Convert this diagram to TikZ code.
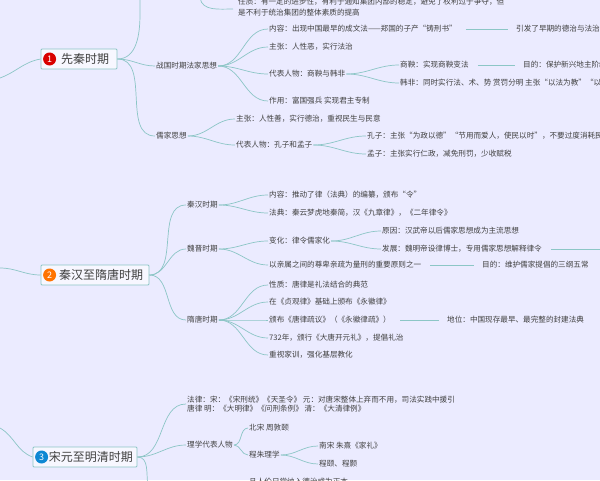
\documentclass[tikz,border=0pt]{standalone}
\usepackage{fontspec}
\setmainfont{Noto Sans CJK SC}
\begin{document}
\begin{tikzpicture}[x=1pt,y=-1pt,
  every node/.style={text=black!75},
  t/.style={anchor=west,inner sep=1pt,font=\fontsize{7.6}{9}\selectfont},
  topic/.style={draw=teal!45,fill=blue!3,line width=0.8pt,rounded corners=1pt,inner xsep=4pt,inner ysep=2pt,font=\fontsize{12}{14}\selectfont,minimum height=20pt},
  num/.style={circle,inner sep=0pt,minimum size=13pt,text=white,font=\fontsize{9}{9}\selectfont},
  br/.style={draw=teal!45!white,line width=0.7pt},
  ln/.style={draw=teal!45!white,line width=0.7pt,shorten <=8pt,shorten >=7pt}]
\fill[blue!8!white] (0,0) rectangle (600,480);
\useasboundingbox (0,0) rectangle (600,480);
\newcommand{\curve}[2]{\draw[br] (#1) to[out=0,in=180] (#2);}
% ---------- 1
\node[topic,minimum width=76pt] (b1) at (79,59) {\hspace{12pt}先秦时期};
\node[num,fill=red!85!black] at ([xshift=9pt]b1.west) {1};
\coordinate (l1) at (0,78);
\coordinate (top1) at (140,-6);
\draw[br] (b1.west) to[out=190,in=20] (l1);
\draw[br] (b1.east) to[out=0,in=-90] ([yshift=-20pt]top1) -- (top1);
\draw[br] (200,-2) to[out=-80,in=180] (233,9);
\node[t] (q1) at (237,2) {任质：有一定的进步性，有利于通知集团内部的稳定，避免了权利过于争夺，但};
\node[t] (q2) at (237,13) {是不利于统治集团的整体素质的提高};
\node[t] (z) at (155,66) {战国时期法家思想};
\node[t] (r) at (155,136) {儒家思想};
\curve{b1.east}{z.west}
\curve{b1.east}{r.west}
\node[t] (z1) at (268,29) {内容：出现中国最早的成文法——郑国的子产“铸刑书”};
\node[t] (z2) at (268,47) {主张：人性恶，实行法治};
\node[t] (z3) at (268,74) {代表人物：商鞅与韩非};
\node[t] (z4) at (268,101) {作用：富国强兵 实现君主专制};
\foreach \c in {z1,z2,z3,z4} {\curve{z.east}{\c.west}}
\node[t] (z1a) at (515,29) {引发了早期的德治与法治之争};
\draw[ln] (z1.east) -- (z1a.west);
\node[t] (s1) at (399,65) {商鞅：实现商鞅变法};
\node[t] (s2) at (399,83) {韩非：同时实行法、术、势 赏罚分明 主张“以法为教”“以吏为师”};
\curve{z3.east}{s1.west}
\curve{z3.east}{s2.west}
\node[t] (s1a) at (522,65) {目的：保护新兴地主阶级利益};
\draw[ln] (s1.east) -- (s1a.west);
\node[t] (r1) at (235,119) {主张：人性善，实行德治，重视民生与民意};
\node[t] (r2) at (235,145) {代表人物：孔子和孟子};
\curve{r.east}{r1.west}
\curve{r.east}{r2.west}
\node[t] (k1) at (366,136) {孔子：主张“为政以德”“节用而爱人，使民以时”，不要过度消耗民力};
\node[t] (k2) at (366,154) {孟子：主张实行仁政，减免刑罚，少收赋税};
\curve{r2.east}{k1.west}
\curve{r2.east}{k2.west}
% ---------- 2
\node[topic,minimum width=108pt] (b2) at (95,275) {\hspace{12pt}秦汉至隋唐时期};
\node[num,fill=orange!90!red] at ([xshift=9pt]b2.west) {2};
\coordinate (l2) at (0,268);
\draw[br] (b2.west) to[out=180,in=0] (l2);
\node[t] (h) at (186,205) {秦汉时期};
\node[t] (w) at (186,249) {魏晋时期};
\node[t] (s) at (186,320) {隋唐时期};
\foreach \c in {h,w,s} {\curve{b2.east}{\c.west}}
\node[t] (h1) at (268,195) {内容：推动了律（法典）的编纂，颁布“令”};
\node[t] (h2) at (268,213) {法典：秦云梦虎地秦简，汉《九章律》，《二年律令》};
\curve{h.east}{h1.west}\curve{h.east}{h2.west}
\node[t] (w1) at (268,241) {变化：律令儒家化};
\node[t] (w2) at (268,265) {以亲属之间的尊卑亲疏为量刑的重要原则之一};
\curve{w.east}{w1.west}\curve{w.east}{w2.west}
\node[t] (y1) at (381,231) {原因：汉武帝以后儒家思想成为主流思想};
\node[t] (y2) at (381,249) {发展：魏明帝设律博士，专用儒家思想解释律令};
\curve{w1.east}{y1.west}\curve{w1.east}{y2.west}
\coordinate (y2a) at (604,249);
\draw[ln,shorten >=0pt] (y2.east) -- (y2a);
\node[t] (w2a) at (481,265) {目的：维护儒家提倡的三纲五常};
\draw[ln] (w2.east) -- (w2a.west);
\node[t] (s1t) at (268,285) {性质：唐律是礼法结合的典范};
\node[t] (s2t) at (268,302) {在《贞观律》基础上颁布《永徽律》};
\node[t] (s3t) at (268,320) {颁布《唐律疏议》（《永徽律疏》）};
\node[t] (s4t) at (268,338) {732年，颁行《大唐开元礼》，提倡礼治};
\node[t] (s5t) at (268,355) {重视家训，强化基层教化};
\foreach \c in {s1t,s2t,s3t,s4t,s5t} {\curve{s.east}{\c.west}}
\node[t] (s3a) at (446,320) {地位：中国现存最早、最完整的封建法典};
\draw[ln] (s3t.east) -- (s3a.west);
% ---------- 3
\node[topic,minimum width=89pt] (b3) at (85,457) {\hspace{12pt}宋元至明清时期};
\node[num,fill=cyan!70!blue] at ([xshift=9pt]b3.west) {3};
\coordinate (l3) at (0,428);
\draw[br] (b3.west) to[out=160,in=-30] (l3);
\node[t,align=left] (f) at (186,404) {法律：宋：《宋刑统》《天圣令》 元：对唐宋整体上弃而不用，司法实践中援引\\唐律 明：《大明律》《问刑条例》 清：《大清律例》};
\node[t] (lx) at (186,445) {理学代表人物};
\coordinate (bot) at (148,486);
\curve{b3.east}{f.west}
\curve{b3.east}{lx.west}
\draw[br] (b3.east) to[out=0,in=100] (bot);
\node[t] (lx1) at (248,428) {北宋 周敦颐};
\node[t] (lx2) at (248,455) {程朱理学};
\curve{lx.east}{lx1.west}\curve{lx.east}{lx2.west}
\node[t] (c1) at (318,446) {南宋 朱熹《家礼》};
\node[t] (c2) at (318,464) {程颐、程颢};
\curve{lx2.east}{c1.west}\curve{lx2.east}{c2.west}
\node[t] (bt) at (248,482) {且人伦日常纳入德治成为正本};
\end{tikzpicture}
\end{document}
